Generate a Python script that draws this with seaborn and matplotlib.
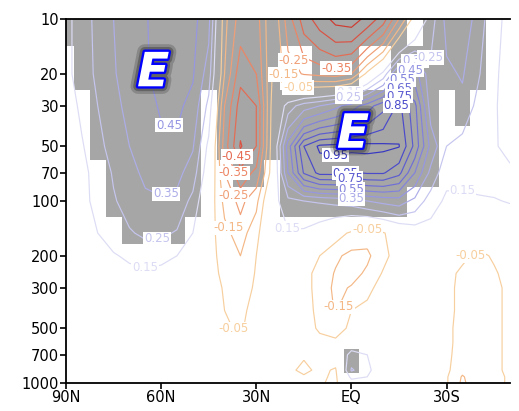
import numpy as np
import matplotlib
matplotlib.use("Agg")
import matplotlib.pyplot as plt
import matplotlib.patheffects as pe
from matplotlib.colors import ListedColormap
import seaborn as sns

# ---------------- data ----------------
lats = [90, 85, 80, 75, 70, 65, 60, 55, 50, 45, 40, 35, 30, 25, 20, 15, 10, 5, 0,
        -5, -10, -15, -20, -25, -30, -35, -40, -45, -50]
levels_hpa = [10, 20, 30, 50, 70, 100, 150, 200, 250, 300, 400, 500, 600, 700, 850, 925, 1000]

corr_p10 = [0.12, 0.20, 0.28, 0.35, 0.41, 0.44, 0.50, 0.50, 0.48, 0.38,
            -0.12, -0.30, -0.30, -0.05, -0.30, -0.50, -0.60, -0.68, -0.70,
            -0.62, -0.50, -0.25, 0.00, 0.20, 0.38, 0.43, 0.30, 0.18, 0.12]
corr_p20 = [0.12, 0.20, 0.27, 0.34, 0.40, 0.44, 0.48, 0.50, 0.46, 0.30,
            -0.15, -0.42, -0.35, -0.05, -0.20, -0.26, -0.28, -0.30, -0.25,
            -0.02, 0.18, 0.50, 0.50, 0.28, 0.33, 0.36, 0.26, 0.17, 0.10]
corr_p30 = [0.10, 0.17, 0.25, 0.32, 0.38, 0.42, 0.46, 0.47, 0.42, 0.22,
            -0.25, -0.50, -0.45, -0.02, 0.20, 0.30, 0.35, 0.42, 0.50,
            0.60, 0.72, 0.88, 0.68, 0.30, 0.32, 0.32, 0.22, 0.16, 0.11]
corr_p50 = [0.07, 0.14, 0.22, 0.29, 0.35, 0.40, 0.43, 0.43, 0.36, 0.12,
            -0.30, -0.56, -0.45, 0.00, 0.50, 0.85, 0.97, 0.98, 0.98,
            0.98, 0.97, 0.955, 0.72, 0.42, 0.25, 0.21, 0.19, 0.16, 0.12]
corr_p70 = [0.06, 0.12, 0.19, 0.26, 0.32, 0.37, 0.39, 0.38, 0.30, 0.08,
            -0.25, -0.42, -0.32, 0.00, 0.45, 0.76, 0.88, 0.88, 0.84,
            0.86, 0.86, 0.78, 0.55, 0.32, 0.18, 0.18, 0.18, 0.18, 0.17]
corr_p100 = [0.05, 0.12, 0.18, 0.24, 0.29, 0.33, 0.34, 0.32, 0.22, 0.03,
             -0.18, -0.28, -0.18, 0.10, 0.22, 0.25, 0.26, 0.28, 0.30,
             0.35, 0.38, 0.40, 0.32, 0.20, 0.13, 0.13, 0.14, 0.145, 0.155]
corr_p150 = [0.03, 0.10, 0.15, 0.20, 0.24, 0.27, 0.27, 0.24, 0.15, 0.00,
             -0.12, -0.20, -0.08, 0.08, 0.14, 0.13, 0.08, 0.00, -0.07,
             -0.11, -0.06, 0.02, 0.08, 0.10, 0.10, 0.07, 0.00, 0.03, 0.08]
corr_p200 = [0.02, 0.06, 0.10, 0.14, 0.17, 0.19, 0.18, 0.15, 0.08, 0.00,
             -0.10, -0.15, -0.05, 0.02, 0.04, 0.02, -0.05, -0.13, -0.18,
             -0.17, -0.08, 0.00, 0.03, 0.03, 0.00, -0.03, -0.07, -0.04, 0.00]
corr_p250 = [0.00, 0.03, 0.06, 0.09, 0.12, 0.13, 0.12, 0.10, 0.05, 0.00,
             -0.08, -0.13, -0.04, 0.00, 0.02, -0.02, -0.08, -0.16, -0.19,
             -0.13, -0.04, 0.00, 0.02, 0.01, -0.02, -0.07, -0.08, -0.06, -0.02]
corr_p300 = [0.00, 0.02, 0.04, 0.06, 0.08, 0.09, 0.08, 0.06, 0.03, 0.00,
             -0.06, -0.11, -0.03, 0.00, 0.00, -0.03, -0.07, -0.18, -0.14,
             -0.07, -0.02, 0.00, 0.01, 0.00, -0.03, -0.07, -0.09, -0.07, -0.03]
corr_p400 = [0.00, 0.01, 0.02, 0.03, 0.04, 0.04, 0.04, 0.03, 0.01, 0.00,
             -0.05, -0.07, -0.02, 0.00, 0.00, -0.02, -0.07, -0.16, -0.05,
             -0.03, 0.00, 0.00, 0.01, 0.00, -0.03, -0.07, -0.09, -0.07, -0.03]
corr_p500 = [0.00, 0.00, 0.01, 0.01, 0.02, 0.02, 0.02, 0.01, 0.00, 0.00,
             -0.04, -0.06, -0.01, 0.00, 0.00, -0.02, -0.06, -0.09, -0.03,
             0.00, 0.00, 0.00, 0.00, 0.00, -0.03, -0.08, -0.09, -0.07, -0.03]
corr_p600 = [0.00, 0.00, 0.00, 0.00, 0.01, 0.01, 0.01, 0.00, 0.00, 0.00,
             -0.02, -0.03, 0.00, 0.00, 0.00, -0.02, -0.03, -0.03, 0.06,
             0.04, 0.00, 0.00, 0.00, 0.00, -0.03, -0.08, -0.08, -0.07, -0.03]
corr_p700 = [0.01, 0.01, 0.00, 0.00, 0.00, 0.00, 0.00, 0.00, 0.00, -0.01,
             -0.02, -0.02, -0.01, 0.00, -0.02, -0.04, -0.03, 0.00, 0.20,
             0.15, 0.00, 0.00, 0.00, 0.00, -0.03, -0.09, -0.08, -0.07, -0.03]
corr_p850 = [0.00, 0.00, 0.00, 0.00, 0.00, 0.00, 0.00, 0.00, 0.00, -0.01,
             -0.02, -0.02, -0.01, -0.01, -0.03, -0.07, -0.03, -0.06, 0.26,
             0.20, 0.00, 0.00, 0.00, 0.00, -0.03, -0.12, -0.08, -0.07, -0.03]
corr_p925 = [0.00, 0.00, 0.00, 0.00, 0.00, 0.00, 0.00, 0.00, 0.00, -0.01,
             -0.02, -0.02, -0.01, -0.01, -0.02, -0.04, -0.03, -0.07, 0.18,
             0.15, 0.00, 0.00, 0.00, 0.00, -0.04, -0.16, -0.08, -0.07, -0.04]
corr_p1000 = [0.00, 0.00, 0.00, 0.00, 0.00, 0.00, 0.00, 0.00, 0.00, -0.01,
              -0.02, -0.02, -0.01, -0.01, -0.02, -0.03, -0.04, -0.07, 0.10,
              0.08, 0.00, 0.00, 0.00, 0.00, -0.04, -0.17, -0.08, -0.07, -0.04]

# significance ('#' = significant, shaded grey), same grid, top level first
sig_p10 = "######################.####.."
sig_p20 = ".#############..###..######.."
sig_p30 = "..#######.##############.#..."
sig_p50 = "..#######.##############....."
sig_p70 = "...######..##.##########....."
sig_p100 = "...######.....########......."
sig_p150 = "....####....................."
sig_p200 = "............................."
sig_p250 = "............................."
sig_p300 = "............................."
sig_p400 = "............................."
sig_p500 = "............................."
sig_p600 = "............................."
sig_p700 = "..................#.........."
sig_p850 = "..................#.........."
sig_p925 = "............................."
sig_p1000 = "............................."

contour_levels = [-0.65, -0.55, -0.45, -0.35, -0.25, -0.15, -0.05,
                  0.15, 0.25, 0.35, 0.45, 0.55, 0.65, 0.75, 0.85, 0.95]
contour_colors = ['#cf3b30', '#db5242', '#e56b52', '#ec8564', '#f09f76', '#f4b886', '#f7cf9e',
                  '#dcdcf5', '#c5c5ef', '#adade9', '#9696e3', '#8282dd', '#6e6ed7',
                  '#5c5cd1', '#4a4acb', '#3636c2']

# where the reference puts its contour labels: (level, latitude, hPa)
label_spots = [
    (0.45, 56.6, 35), (0.35, 58.8, 89), (0.25, 61.3, 158), (0.15, 65.0, 232),
    (-0.45, 36.0, 57), (-0.35, 38.6, 72), (-0.25, 38.6, 95), (-0.15, 38.3, 139),
    (-0.05, 37.7, 520),
    (-0.25, 21.0, 18.0), (-0.15, 21.0, 19.8), (-0.05, 16.8, 22.0), (-0.35, 4.9, 18.3),
    (0.15, 1.0, 23.9), (0.25, 1.0, 26.9),
    (0.35, -20.0, 15.7), (0.45, -18.5, 17.4), (0.55, -16.9, 19.5), (0.65, -16.9, 21.6),
    (0.75, -15.3, 23.9), (0.85, -12.2, 26.7), (0.25, -27.9, 17.2),
    (0.95, 5.0, 60), (0.85, 2.0, 68), (0.75, 0.5, 76), (0.55, 0.0, 86), (0.35, 0.0, 96),
    (0.15, 25.7, 152), (0.15, -35.8, 76),
    (-0.05, -4.9, 139), (-0.15, 3.6, 385), (-0.05, -34.2, 178),
]

xtick_vals = [90, 60, 30, 0, -30]
xtick_labels = ['90N', '60N', '30N', 'EQ', '30S']
ytick_vals = [10, 20, 30, 50, 70, 100, 200, 300, 500, 700, 1000]

# ---------------- build arrays ----------------
field = np.array([corr_p10, corr_p20, corr_p30, corr_p50, corr_p70, corr_p100,
                  corr_p150, corr_p200, corr_p250, corr_p300, corr_p400, corr_p500,
                  corr_p600, corr_p700, corr_p850, corr_p925, corr_p1000])
sig_rows = [sig_p10, sig_p20, sig_p30, sig_p50, sig_p70, sig_p100, sig_p150, sig_p200,
            sig_p250, sig_p300, sig_p400, sig_p500, sig_p600, sig_p700, sig_p850,
            sig_p925, sig_p1000]
sig = np.array([[1.0 if c == '#' else np.nan for c in row] for row in sig_rows])

lat_arr = np.array(lats, dtype=float)
p_arr = np.array(levels_hpa, dtype=float)
lat_a = lat_arr[::-1]
field_a = field[:, ::-1]
sig_a = sig[:, ::-1]

dlat = 2.5
lat_edges = np.concatenate([[lat_a[0] - dlat], (lat_a[:-1] + lat_a[1:]) / 2, [lat_a[-1] + dlat]])
p_mid = np.sqrt(p_arr[:-1] * p_arr[1:])
p_edges = np.concatenate([[p_arr[0] / 1.5], p_mid, [p_arr[-1] * 1.1]])

# ---------------- plot ----------------
sns.set_style("ticks")
plt.rcParams['font.family'] = ['DejaVu Sans']

fig = plt.figure(figsize=(5.19, 4.11), dpi=100)
ax = fig.add_axes([66 / 519, 1 - 383 / 411, (510 - 66) / 519, (383 - 19) / 411])

ax.set_yscale('log')
ax.set_ylim(1000, 10)
ax.set_xlim(90, -50)

ax.pcolormesh(lat_edges, p_edges, np.ma.masked_invalid(sig_a),
              cmap=ListedColormap(['#a6a6a6']), shading='flat', zorder=1)

LA, PP = np.meshgrid(lat_a, p_arr)
lab_fmt = lambda v: f"{v:.2f}"
cs_by_level = {}
for lev, col in zip(contour_levels, contour_colors):
    cs_by_level[lev] = ax.contour(LA, PP, field_a, levels=[lev], colors=[col],
                                  linewidths=0.85, linestyles='solid', zorder=2)

for lev, la, pr in label_spots:
    cs = cs_by_level[lev]
    try:
        cs.clabel(manual=[(la, pr)], fmt=lab_fmt, fontsize=8.5, inline=False)
    except Exception:
        pass
for cs in cs_by_level.values():
    for t in getattr(cs, 'labelTexts', []):
        t.set_rotation(0)
        t.set_bbox(dict(facecolor='white', edgecolor='none', pad=0.5))
        t.set_zorder(3)

ax.set_yticks(ytick_vals)
ax.set_yticklabels([str(v) for v in ytick_vals])
ax.yaxis.set_minor_locator(matplotlib.ticker.NullLocator())
ax.set_xticks(xtick_vals)
ax.set_xticklabels(xtick_labels)
ax.tick_params(axis='both', direction='out', length=4, width=1.2, labelsize=10.5,
               colors='black', pad=1)
for s in ('left', 'bottom', 'top'):
    ax.spines[s].set_visible(True)
    ax.spines[s].set_color('black')
    ax.spines[s].set_linewidth(1.3)
ax.spines['right'].set_visible(False)

effects = [pe.Stroke(linewidth=11, foreground='#303030', alpha=0.25),
           pe.Stroke(linewidth=7, foreground='#303030', alpha=0.4),
           pe.Stroke(linewidth=3.4, foreground='#0000ff'),
           pe.Normal()]
for lx, ly in ((62.5, 20.0), (-0.5, 43.5)):
    ax.text(lx, ly, 'E', color='white', fontsize=34, fontweight='bold', style='italic',
            ha='center', va='center', zorder=6, path_effects=effects)

fig.savefig('out.png', dpi=100)
